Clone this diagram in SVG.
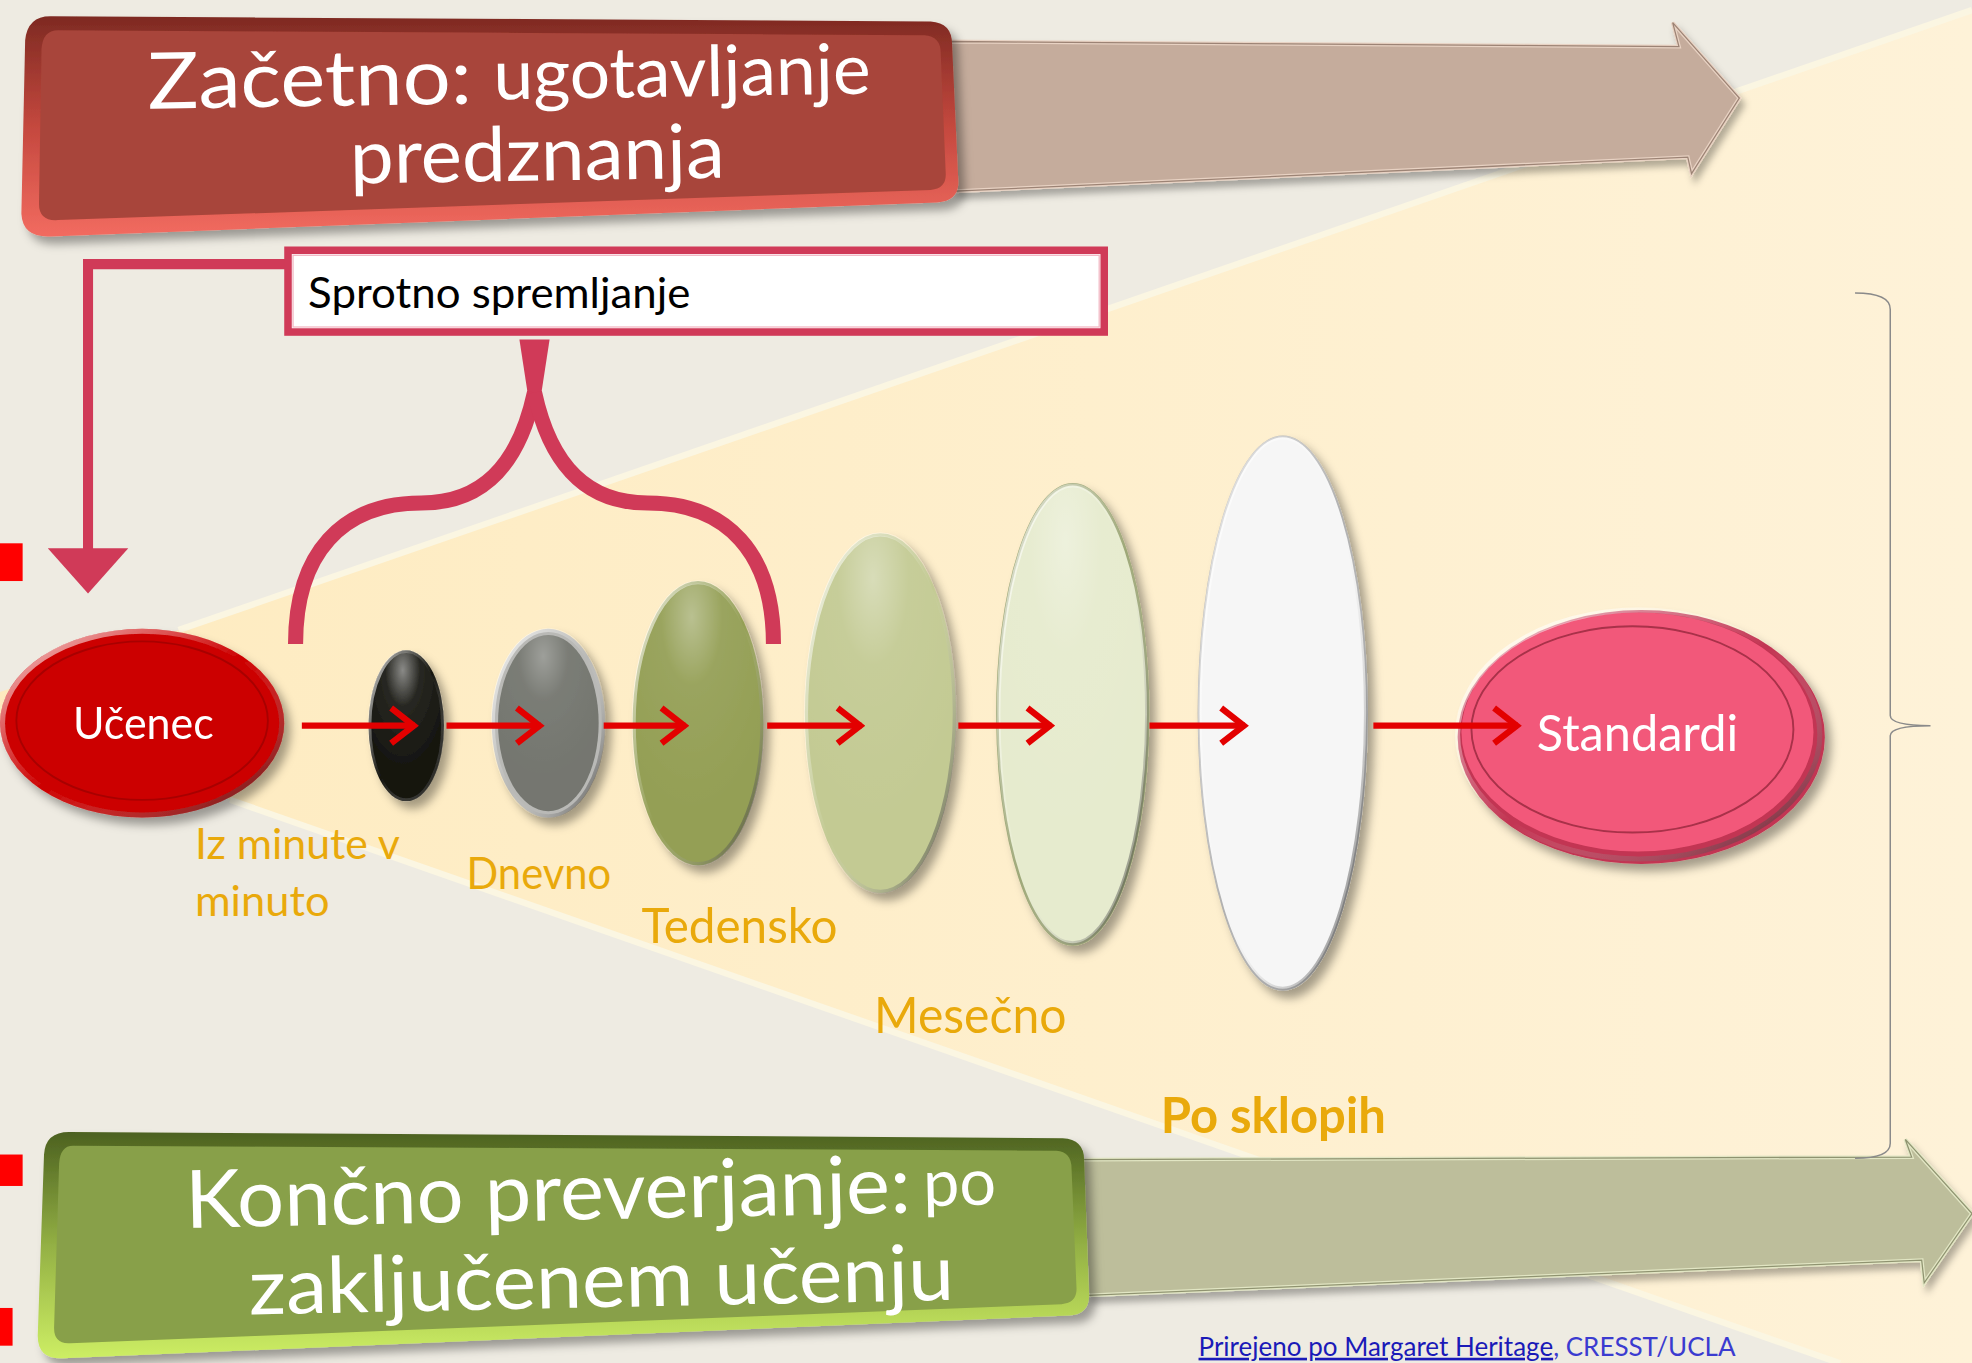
<svg xmlns="http://www.w3.org/2000/svg" width="1972" height="1363" viewBox="0 0 1972 1363">
<defs>
<style>
.lbl{font-family:Lato,"Open Sans","Liberation Sans",sans-serif;fill:#E9A90B}
.wt{font-family:Lato,"Open Sans","Liberation Sans",sans-serif;fill:#FFFFFF}
.conn{fill:none;stroke:#D03A58}
.ar{fill:none;stroke:#E30000;stroke-width:5}
.edge{fill:none;stroke:#FBF6E2;stroke-width:5}
</style>
<filter id="sh" x="-30%" y="-30%" width="170%" height="170%"><feDropShadow dx="5" dy="6" stdDeviation="4" flood-color="#000" flood-opacity="0.35"/></filter>
<filter id="shs" x="-10%" y="-30%" width="130%" height="170%"><feDropShadow dx="3" dy="5" stdDeviation="3" flood-color="#000" flood-opacity="0.3"/></filter>
<marker id="chev" viewBox="0 0 26 34" refX="23" refY="17" markerWidth="26" markerHeight="34" markerUnits="userSpaceOnUse" orient="auto"><path d="M4,3 L22,17 L4,31" fill="none" stroke="#E30000" stroke-width="5"/></marker>
<radialGradient id="gloss" cx="0.45" cy="0.12" r="0.7"><stop offset="0" stop-color="#fff" stop-opacity="0.5"/><stop offset="0.35" stop-color="#fff" stop-opacity="0.08"/><stop offset="1" stop-color="#fff" stop-opacity="0"/></radialGradient>
<linearGradient id="rim" x1="0" y1="0" x2="1" y2="1"><stop offset="0" stop-color="#fff" stop-opacity="0.8"/><stop offset="0.5" stop-color="#fff" stop-opacity="0"/><stop offset="1" stop-color="#000" stop-opacity="0.65"/></linearGradient>
<linearGradient id="wedge" x1="0" y1="0" x2="1" y2="0"><stop offset="0" stop-color="#FEEBBF"/><stop offset="1" stop-color="#FEF2D8"/></linearGradient>
<linearGradient id="redOut" x1="0" y1="0" x2="0" y2="1"><stop offset="0" stop-color="#7E2A22"/><stop offset="0.5" stop-color="#C4483E"/><stop offset="1" stop-color="#F26B60"/></linearGradient>
<linearGradient id="grnOut" x1="0" y1="0" x2="0" y2="1"><stop offset="0" stop-color="#4C6120"/><stop offset="0.5" stop-color="#93B044"/><stop offset="1" stop-color="#CDEE64"/></linearGradient>
</defs>
<rect width="1972" height="1363" fill="#EEEBE2"/>
<g transform="scale(1.257653)">
<g id="background-wedge">
<polygon points="-31,561 142,501 1568,8 1568,1084 1463,1084 183,636" fill="url(#wedge)"/>
<line class="edge" x1="142" y1="501" x2="1568" y2="8"/>
<line class="edge" x1="183" y1="636" x2="1463" y2="1084"/>
</g>
<g id="markers-left" fill="#FF0000">
<rect x="0" y="432" width="18" height="30"/>
<rect x="0" y="918" width="18" height="25"/>
<rect x="0" y="1040" width="10" height="30"/>
</g>
<g id="arrow-top" filter="url(#shs)">
<polygon points="755,33 1335,37 1330,18 1383,78 1345,138 1342,125 760,152" fill="#C5AC9C" stroke="#E8D2C3" stroke-width="3"/>
<polygon points="755,33 1335,37 1330,18 1383,78 1345,138 1342,125 760,152" fill="none" stroke="#9C8374" stroke-width="1"/>
</g>
<g id="arrow-bottom" filter="url(#shs)">
<polygon points="860,922 1520,920 1515,906 1568,965 1530,1020 1528,1002 865,1030" fill="#BDBE9B" stroke="#E2E6C4" stroke-width="3"/>
<polygon points="860,922 1520,920 1515,906 1568,965 1530,1020 1528,1002 865,1030" fill="none" stroke="#8F9370" stroke-width="1"/>
</g>
<g id="box-zacetno" filter="url(#sh)">
<path d="M40,13 L740,17 Q757,18 757,35 L762,145 Q762,160 745,161 L40,188 Q18,189 17,170 L20,32 Q22,13 40,13 Z" fill="url(#redOut)"/>
<path d="M46,24 L735,28 Q748,29 748,42 L752,139 Q752,150 740,151 L46,175 Q31,176 31,162 L33,39 Q34,24 46,24 Z" fill="#A8453A"/>
<g transform="rotate(-0.9 400 110)">
<text class="wt" x="118" y="82" font-size="62" textLength="258" lengthAdjust="spacingAndGlyphs">Začetno:</text>
<text class="wt" x="393" y="79" font-size="56" textLength="300" lengthAdjust="spacingAndGlyphs">ugotavljanje</text>
<text class="wt" x="278" y="144" font-size="60" textLength="298" lengthAdjust="spacingAndGlyphs">predznanja</text>
</g>
</g>
<g id="box-koncno" filter="url(#sh)">
<path d="M55,900 L845,905 Q862,906 862,922 L866,1030 Q866,1045 850,1046 L50,1080 Q30,1081 30,1062 L35,918 Q36,900 55,900 Z" fill="url(#grnOut)"/>
<path d="M58,911 L840,915 Q852,916 852,929 L856,1025 Q856,1036 844,1037 L56,1068 Q43,1069 43,1056 L47,925 Q48,911 58,911 Z" fill="#88A048"/>
<g transform="rotate(-1.2 450 990)">
<text class="wt" x="148" y="970" font-size="64" textLength="577" lengthAdjust="spacingAndGlyphs">Končno preverjanje:</text>
<text class="wt" x="735" y="965" font-size="52" textLength="58" lengthAdjust="spacingAndGlyphs">po</text>
<text class="wt" x="197" y="1040" font-size="62" textLength="561" lengthAdjust="spacingAndGlyphs">zaključenem učenju</text>
</g>
</g>
<g id="connectors">
<polyline class="conn" points="232,210 70,210 70,440" stroke-width="8"/>
<polygon points="38,436 102,436 70,472" fill="#D03A58"/>
<polygon points="413,270 437,270 429,322 421,322" fill="#D03A58"/>
<path class="conn" stroke-width="12" d="M425,312 C412,372 382,400 335,400 C272,400 235,440 235,512"/>
<path class="conn" stroke-width="12" d="M425,312 C438,372 468,400 515,400 C578,400 615,440 615,512"/>
<path d="M1475,233 Q1503,233 1503,246 L1503,569 Q1503,577 1535,577 Q1503,577 1503,585 L1503,909 Q1503,921 1475,921" fill="none" stroke="#8A8A8A" stroke-width="1.2"/>
</g>
<g id="node-sprotno">
<rect x="229" y="199" width="649" height="65" fill="#FFFFFF" stroke="#D03A58" stroke-width="6"/>
<rect x="233" y="203" width="641" height="57" fill="none" stroke="#F2B6C2" stroke-width="1"/>
<text x="245" y="245" font-family="Lato,'Open Sans','Liberation Sans',sans-serif" font-size="34" fill="#000" textLength="304" lengthAdjust="spacingAndGlyphs">Sprotno spremljanje</text>
</g>
<g id="node-ucenec" filter="url(#sh)">
<ellipse cx="113" cy="575" rx="113" ry="75" fill="#CC0000"/>
<ellipse cx="113" cy="575" rx="111" ry="73" fill="none" stroke="url(#rim)" stroke-width="4"/>
<ellipse cx="113" cy="573" rx="100" ry="63" fill="none" stroke="#A80000" stroke-width="1.5"/>
<text class="wt" x="58" y="588" font-size="36" textLength="112" lengthAdjust="spacingAndGlyphs">Učenec</text>
</g>
<g id="node-e1" filter="url(#sh)">
<ellipse cx="323" cy="577" rx="30" ry="60" fill="#15150F"/>
<ellipse cx="323" cy="577" rx="29" ry="59" fill="none" stroke="url(#rim)" stroke-width="2.5"/>
<ellipse cx="323" cy="577" rx="28" ry="58" fill="url(#gloss)"/>
</g>
<g id="node-e2" filter="url(#sh)">
<ellipse cx="436" cy="575" rx="45" ry="75" fill="#B9B9B6"/>
<ellipse cx="436" cy="575" rx="40" ry="70" fill="#74766F"/>
<ellipse cx="436" cy="575" rx="44" ry="74" fill="none" stroke="url(#rim)" stroke-width="3"/>
<ellipse cx="436" cy="575" rx="40" ry="70" fill="url(#gloss)" opacity="0.6"/>
</g>
<g id="node-e3" filter="url(#sh)">
<ellipse cx="555" cy="575" rx="52" ry="113" fill="#949F55"/>
<ellipse cx="555" cy="575" rx="51" ry="112" fill="none" stroke="url(#rim)" stroke-width="3"/>
<ellipse cx="555" cy="575" rx="50" ry="111" fill="url(#gloss)" opacity="0.7"/>
</g>
<g id="node-e4" filter="url(#sh)">
<ellipse cx="700" cy="567" rx="60" ry="143" fill="#C3CA93"/>
<ellipse cx="700" cy="567" rx="59" ry="142" fill="none" stroke="url(#rim)" stroke-width="3"/>
<ellipse cx="700" cy="567" rx="58" ry="141" fill="url(#gloss)" opacity="0.7"/>
</g>
<g id="node-e5" filter="url(#sh)">
<ellipse cx="853" cy="568" rx="60" ry="183" fill="#E6EBCE" stroke="#9EA878" stroke-width="2"/>
<ellipse cx="853" cy="568" rx="59" ry="182" fill="none" stroke="url(#rim)" stroke-width="3"/>
<ellipse cx="853" cy="568" rx="58" ry="181" fill="url(#gloss)" opacity="0.6"/>
</g>
<g id="node-e6" filter="url(#sh)">
<ellipse cx="1020" cy="567" rx="67" ry="220" fill="#F6F6F6" stroke="#B0B0B0" stroke-width="1.5"/>
<ellipse cx="1020" cy="567" rx="66" ry="219" fill="none" stroke="url(#rim)" stroke-width="3"/>
</g>
<g id="node-standardi" filter="url(#sh)">
<ellipse cx="1305" cy="586" rx="146" ry="101" fill="#C23452"/>
<ellipse cx="1302" cy="582" rx="140" ry="95" fill="#F2587A"/>
<ellipse cx="1303" cy="584" rx="144" ry="99" fill="none" stroke="url(#rim)" stroke-width="4"/>
<ellipse cx="1298" cy="580" rx="128" ry="82" fill="none" stroke="#A83049" stroke-width="1.5"/>
<text class="wt" x="1222" y="597" font-size="40" textLength="160" lengthAdjust="spacingAndGlyphs">Standardi</text>
</g>
<g id="flow-arrows">
<line class="ar" x1="240" y1="577" x2="330" y2="577" marker-end="url(#chev)"/>
<line class="ar" x1="355" y1="577" x2="430" y2="577" marker-end="url(#chev)"/>
<line class="ar" x1="480" y1="577" x2="545" y2="577" marker-end="url(#chev)"/>
<line class="ar" x1="610" y1="577" x2="685" y2="577" marker-end="url(#chev)"/>
<line class="ar" x1="762" y1="577" x2="836" y2="577" marker-end="url(#chev)"/>
<line class="ar" x1="914" y1="577" x2="990" y2="577" marker-end="url(#chev)"/>
<line class="ar" x1="1092" y1="577" x2="1207" y2="577" marker-end="url(#chev)"/>
</g>
<g id="labels">
<text class="lbl" x="155" y="683" font-size="34" textLength="163" lengthAdjust="spacingAndGlyphs">Iz minute v</text>
<text class="lbl" x="155" y="728" font-size="34" textLength="107" lengthAdjust="spacingAndGlyphs">minuto</text>
<text class="lbl" x="371" y="707" font-size="35" textLength="115" lengthAdjust="spacingAndGlyphs">Dnevno</text>
<text class="lbl" x="510" y="750" font-size="39" textLength="156" lengthAdjust="spacingAndGlyphs">Tedensko</text>
<text class="lbl" x="695" y="821" font-size="40" textLength="153" lengthAdjust="spacingAndGlyphs">Mesečno</text>
<text class="lbl" x="923" y="901" font-size="40" font-weight="bold" textLength="179" lengthAdjust="spacingAndGlyphs">Po sklopih</text>
</g>
<g id="credit">
<text x="953" y="1078" font-family="Lato,'Open Sans','Liberation Sans',sans-serif" font-size="21" textLength="427" lengthAdjust="spacingAndGlyphs"><tspan fill="#1A1AB8" text-decoration="underline">Prirejeno po Margaret Heritage</tspan><tspan fill="#3B3BD0">, CRESST/UCLA</tspan></text>
</g>
</g>
</svg>
